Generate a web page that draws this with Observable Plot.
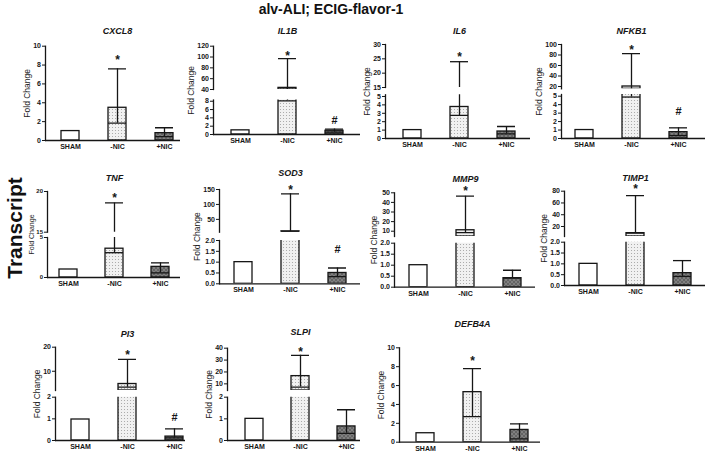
<!DOCTYPE html>
<html><head><meta charset="utf-8">
<script src="https://cdn.jsdelivr.net/npm/d3@7"></script>
<script src="https://cdn.jsdelivr.net/npm/@observablehq/plot@0.6"></script>
<style>
body{margin:0;background:#fff;}
#wrap{position:relative;width:708px;height:453px;overflow:hidden;font-family:"Liberation Sans",Arial,sans-serif;background:#fff;}
#title{position:absolute;left:0;width:662px;top:1px;text-align:center;font-weight:bold;font-size:14px;color:#111;}
#side{position:absolute;left:15px;top:228px;transform:translate(-50%,-50%) rotate(-90deg);font-weight:bold;font-size:21px;white-space:nowrap;color:#111;}
</style></head>
<body>
<div id="wrap">
<svg width="0" height="0" style="position:absolute">
  <defs>
    <pattern id="dots" width="3" height="3" patternUnits="userSpaceOnUse">
      <rect width="3" height="3" fill="#f1f1f1"/><circle cx="1.5" cy="1.5" r="0.55" fill="#a0a0a0"/>
    </pattern>
    <pattern id="hatch" width="4" height="4" patternUnits="userSpaceOnUse">
      <rect width="4" height="4" fill="#808080"/><path d="M0,0L4,4M4,0L0,4" stroke="#585858" stroke-width="0.7"/>
    </pattern>
  </defs>
</svg>
<div id="title">alv-ALI; ECIG-flavor-1</div>
<div id="side">Transcript</div>
</div>
<script>
// ---------- data ----------
const genes = ["CXCL8","IL1B","IL6","NFKB1","TNF","SOD3","MMP9","TIMP1","PI3","SLPI","DEFB4A"];
const groups = ["SHAM","-NIC","+NIC"];
const meanSHAM = [1.0, 1.0, 1.0, 1.0, 1.0, 1.0, 1.0, 1.0, 0.97, 1.0, 0.95];
const meanNeg  = [3.47, 43, 3.75, 20, 3.6, 10, 11, 8.7, 4.7, 16.5, 5.3];
const meanPos  = [0.78, 0.9, 0.83, 0.75, 1.33, 0.5, 0.41, 0.57, 0.18, 0.65, 1.3];
const errLowNeg  = [1.84, 8.1, 2.74, 4.9, 3.1, 9, 8.6, 8.7, 3.4, 7.3, 2.7];
const errHighNeg = [7.6, 97, 24, 82.5, 18.6, 135.5, 46.5, 72.6, 14.9, 34, 7.8];
const errLowPos  = [0.42, 0.55, 0.56, 0.35, 0.58, 0.33, 0.41, 0.42, 0.12, 0.33, 0.35];
const errHighPos = [1.35, 1.3, 1.43, 1.26, 1.83, 0.73, 0.77, 1.15, 0.54, 1.42, 1.95];
// significance marks (value on the axis where the symbol sits)
const starY = [8.8, 107.8, 26.5, 95, 19.6, 157.7, 55.2, 88, 17.9, 39.5, 8.94];
const hashY = [null, 3.4, null, 3.2, null, 1.57, null, null, 1.05, null, null];
// axis segments (broken axes)
const lowerDomain = [[0,10],[0,8.3],[0,5.2],[0,5.2],[0,5],[0,2],[0,2],[0,2],[0,2],[0,2],[0,10]];
const upperDomain = [null,[40,120],[15,30],[15.6,100],[15,20],[7,150],[4.5,50],[3,80],[2,20],[4.4,40],null];
const lowerTicks = [[0,2,4,6,8,10],[0,2,4,6,8],[0,1,2,3,4,5],[0,1,2,3,4,5],[0,5],
  [0,0.5,1,1.5,2],[0,0.5,1,1.5,2],[0,0.5,1,1.5,2],[0,1,2],[0,1,2],[0,2,4,6,8,10]];
const upperTicks = [null,[40,60,80,100,120],[15,20,25,30],[20,40,60,80,100],[15,20],
  [50,100,150],[10,20,30,40,50],[20,40,60,80],[10,20],[10,20,30,40],null];
const decimalTicks = [false,false,false,false,false,true,true,true,false,false,false];

// ---------- layout (pixels) ----------
const axisXs   = [45,213,385,561,47,219,394,564,55,227,399];
const axisEnds = [180,360,530,705,180,360,535,705,185,360,540];
const firstBar = [70,240,412,584,68,242,418,587,80,253,424];
const barStep  = [47,47,47,47,46,47.5,47,47.5,47,46.5,47.5];
const baseY    = [140,134,138,138,277,283.3,286.7,285,440,440,441.7];
const lowTopY  = [45.7,99.5,94.3,94,237,240,242.7,241.7,396.7,396.7,347.3];
const upBotY   = [null,89,87,88.3,231.7,231.7,236,236,390,390,null];
const upTopY   = [null,45.7,44,44,191,189,192.3,190.7,346.7,347.7,null];
const titleY   = [31,31,31,31,178,173,179,178,334,332,324];
const foldOff  = [18,22,18,22,16,22,20,20,18,18,18];
const tickFont = [7,7,7,7,6,7,7,7,7,7,7];
const foldFont = [8.5,8.5,8.5,8.5,7,8.5,8.5,8.5,8.5,8.5,8.5];

const W = 708, H = 453, BAR_W = 18, INK = "#161616";
const fills = ["#ffffff","url(#dots)","url(#hatch)"];
const wrap = document.getElementById("wrap");

function segment(i, part) {
  const broken = upperDomain[i] != null;
  const isLow = part === "low";
  const top = isLow ? lowTopY[i] : upTopY[i];
  const bottom = isLow ? baseY[i] : upBotY[i];
  const domain = isLow ? lowerDomain[i] : upperDomain[i];
  const ticks = isLow ? lowerTicks[i] : upperTicks[i];
  const segMin = domain[0];
  const isTop = isLow ? !broken : true;

  const rows = groups.map((g, j) => ({
    group: g,
    mean: [meanSHAM, meanNeg, meanPos][j][i],
    lo: j === 0 ? null : [null, errLowNeg, errLowPos][j][i],
    hi: j === 0 ? null : [null, errHighNeg, errHighPos][j][i]
  }));
  const errRows = rows.filter(d => d.lo != null);
  const sig = [];
  if (starY[i] != null) sig.push({group: "-NIC", y: starY[i], sym: "*"});
  if (hashY[i] != null) sig.push({group: "+NIC", y: hashY[i], sym: "#"});
  const lowMax = lowerDomain[i][1];
  const sigHere = sig.filter(d => !broken || (isLow ? d.y <= lowMax : d.y > lowMax));

  const step = barStep[i], c0 = firstBar[i];
  const pi = 1 - BAR_W / step;
  const fmt = (isLow && decimalTicks[i]) ? d3.format(".1f") : d3.format("d");
  const marks = [
    Plot.barY(rows.filter(d => d.mean > segMin), {
      x: "group", y1: () => segMin, y2: "mean", fill: "group",
      stroke: INK, strokeWidth: 1.3, clip: true
    }),
    Plot.ruleX(errRows, {x: "group", y1: "lo", y2: "hi", stroke: INK, strokeWidth: 1.3, clip: true}),
    Plot.tickY(errRows, {x: "group", y: "hi", stroke: INK, strokeWidth: 1.3, clip: true}),
    Plot.tickY(errRows, {x: "group", y: "lo", stroke: INK, strokeWidth: 1.3, clip: true}),
    Plot.frame({anchor: "left", stroke: INK, strokeWidth: 1.3}),
    Plot.axisY({ticks, tickSize: 3, tickPadding: 1.5, fontSize: tickFont[i], fontWeight: "bold",
      tickFormat: fmt, label: null, stroke: INK, fill: INK}),
    Plot.text(sigHere.filter(d => d.sym === "*"), {x: "group", y: "y", text: "sym",
      fontSize: 12, fontWeight: "bold", lineAnchor: "middle", dy: 3, fill: INK}),
    Plot.text(sigHere.filter(d => d.sym === "#"), {x: "group", y: "y", text: "sym",
      fontSize: 11, fontWeight: "bold", lineAnchor: "middle", fill: INK})
  ];
  if (isLow) {
    marks.push(Plot.ruleY([0], {stroke: INK, strokeWidth: 1.3}));
    marks.push(Plot.axisX({tickSize: 0, tickPadding: 3.5, fontSize: 7, fontWeight: "bold", label: null, fill: INK}));
    const fullTop = broken ? upTopY[i] : lowTopY[i];
    const foldDy = (fullTop + baseY[i]) / 2 - (lowTopY[i] + baseY[i]) / 2;
    marks.push(Plot.text(["Fold Change"], {text: d => d, frameAnchor: "left", rotate: -90,
      dx: -foldOff[i], dy: foldDy, fontSize: foldFont[i], textAnchor: "middle", lineAnchor: "middle", fill: "#222"}));
  }
  if (isTop) {
    marks.push(Plot.text([{gene: genes[i], at: "-NIC"}], {x: "at", text: "gene", frameAnchor: "top",
      dy: titleY[i] - top, fontSize: 9, fontWeight: "bold", fontStyle: "italic", lineAnchor: "middle", fill: INK}));
  }

  const svg = Plot.plot({
    width: W, height: H,
    marginLeft: axisXs[i], marginRight: W - axisEnds[i],
    marginTop: top, marginBottom: H - bottom,
    style: {position: "absolute", left: "0px", top: "0px", background: "transparent", overflow: "visible",
      fontFamily: "'Liberation Sans', Arial, sans-serif", color: INK, maxWidth: "none"},
    x: {domain: groups, range: [c0 - step / 2, c0 + 2.5 * step], paddingInner: pi, paddingOuter: pi / 2,
      ...(isLow ? {} : {axis: null})},
    y: {domain},
    color: {domain: groups, range: fills},
    marks
  });
  wrap.appendChild(svg);
}

genes.forEach((g, i) => {
  segment(i, "low");
  if (upperDomain[i] != null) segment(i, "up");
});
</script>
</body></html>
